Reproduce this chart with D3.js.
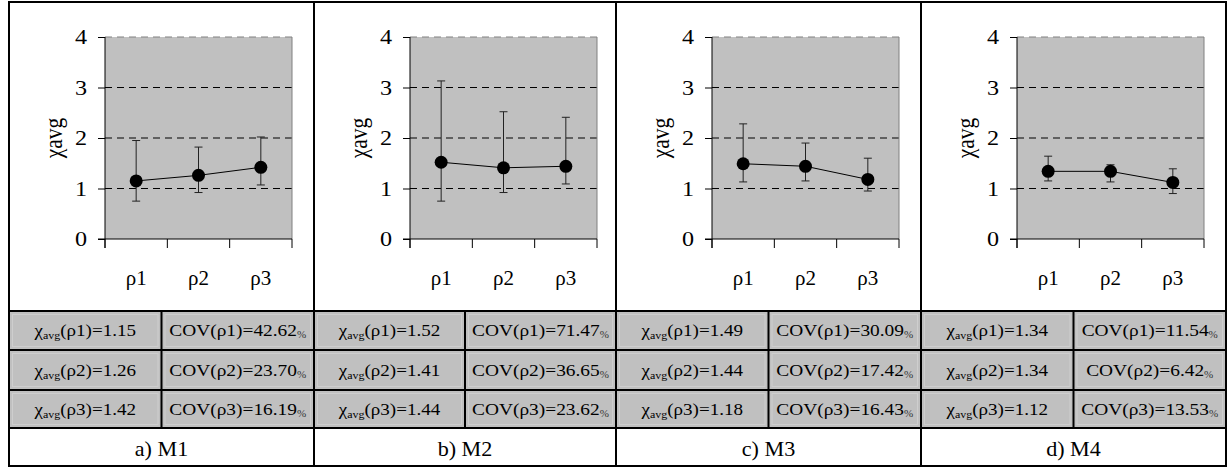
<!DOCTYPE html>
<html><head><meta charset="utf-8">
<script src="https://cdn.jsdelivr.net/npm/d3@7"></script>
<style>body{margin:0;background:#fff}svg{display:block}</style>
</head><body>
<svg id="chart" width="1231" height="467"></svg>
<script>
// ---------- data ----------
const panelLabels = ["a) M1", "b) M2", "c) M3", "d) M4"];
const categories = ["ρ1", "ρ2", "ρ3"];
const yTicks = [0, 1, 2, 3, 4];

const meanM1 = [1.15, 1.26, 1.42];
const meanM2 = [1.52, 1.41, 1.44];
const meanM3 = [1.49, 1.44, 1.18];
const meanM4 = [1.34, 1.34, 1.12];

const highM1 = [1.95, 1.82, 2.02];
const highM2 = [3.13, 2.52, 2.41];
const highM3 = [2.28, 1.90, 1.60];
const highM4 = [1.64, 1.47, 1.39];

const lowM1 = [0.75, 0.92, 1.07];
const lowM2 = [0.75, 0.92, 1.09];
const lowM3 = [1.13, 1.15, 0.95];
const lowM4 = [1.15, 1.13, 0.90];

const covM1 = [42.62, 23.70, 16.19];
const covM2 = [71.47, 36.65, 23.62];
const covM3 = [30.09, 17.42, 16.43];
const covM4 = [11.54, 6.42, 13.53];

const means = [meanM1, meanM2, meanM3, meanM4];
const highs = [highM1, highM2, highM3, highM4];
const lows = [lowM1, lowM2, lowM3, lowM4];
const covs = [covM1, covM2, covM3, covM4];

// ---------- layout ----------
const FONT = "'Liberation Serif','Times New Roman',serif";
const svg = d3.select("#chart");
const edges = [9, 314, 616, 921, 1226];
const frameTop = 2, frameBottom = 466;
const rowLines = [311, 350, 390, 428];
const plotTop = 37, plotBottom = 239, plotOffset = 96, plotW = 187;

svg.append("rect").attr("width", 1231).attr("height", 467).attr("fill", "#fff");

// table cells (gray)
for (let p = 0; p < 4; p++) {
  const mid = (edges[p] + edges[p + 1]) / 2;
  const cols = [[edges[p], mid], [mid, edges[p + 1]]];
  for (let r = 0; r < 3; r++) {
    cols.forEach(([a, b]) => {
      svg.append("rect").attr("x", a).attr("y", rowLines[r])
        .attr("width", b - a).attr("height", rowLines[r + 1] - rowLines[r])
        .attr("fill", "#c0c0c0");
      svg.append("rect").attr("x", a + 3.5).attr("y", rowLines[r] + 3.5)
        .attr("width", b - a - 7).attr("height", rowLines[r + 1] - rowLines[r] - 7)
        .attr("fill", "none").attr("stroke", "#cecece").attr("stroke-width", 1);
    });
  }
}

const leftTexts = [], rightTexts = [];

// ---------- panels ----------
for (let p = 0; p < 4; p++) {
  const left = edges[p] + plotOffset;
  const g = svg.append("g");
  const x = d3.scaleBand().domain(categories).range([left, left + plotW]).padding(0);
  const y = d3.scaleLinear().domain([0, 4]).range([plotBottom, plotTop]);

  g.append("rect").attr("x", left).attr("y", y(4)).attr("width", plotW)
    .attr("height", y(0) - y(4)).attr("fill", "#c0c0c0");

  // grid lines
  g.selectAll(".grid").data(yTicks.filter(d => d > 0)).join("line")
    .attr("x1", left).attr("x2", left + plotW)
    .attr("y1", d => y(d)).attr("y2", d => y(d))
    .attr("stroke", d => d === 4 ? "#808080" : "#000")
    .attr("stroke-width", 1).attr("stroke-dasharray", "7,5");
  // right border
  g.append("line").attr("x1", left + plotW).attr("x2", left + plotW)
    .attr("y1", y(4)).attr("y2", y(0)).attr("stroke", "#808080");

  // y axis
  const ya = g.append("g").attr("transform", `translate(${left},0)`)
    .call(d3.axisLeft(y).tickValues(yTicks).tickSize(7).tickPadding(11).tickFormat(d3.format("d")));
  ya.select(".domain").remove();
  ya.selectAll("line").attr("stroke", "#000");
  ya.selectAll("text").attr("font-family", FONT).attr("font-size", 21).attr("fill", "#000")
    .attr("x", -18 / 1.15).attr("transform", "scale(1.15,1)");
  g.append("line").attr("x1", left).attr("x2", left).attr("y1", y(4)).attr("y2", y(0) + 9)
    .attr("stroke", "#000");

  // x axis
  g.append("line").attr("x1", left - 7).attr("x2", left + plotW).attr("y1", y(0)).attr("y2", y(0))
    .attr("stroke", "#000");
  const bounds = categories.map(c => x(c)).concat([x(categories[2]) + x.bandwidth()]);
  g.selectAll(".xt").data(bounds).join("line")
    .attr("x1", d => d).attr("x2", d => d).attr("y1", y(0)).attr("y2", y(0) + 9)
    .attr("stroke", "#000");
  g.selectAll(".xl").data(categories).join("text")
    .attr("transform", d => `translate(${x(d) + x.bandwidth() / 2},285)`)
    .attr("text-anchor", "middle").attr("font-family", FONT).attr("font-size", 21)
    .text(d => d);

  // y label
  g.append("text").attr("transform", `translate(${edges[p] + 53},138) rotate(-90) scale(1,1.15)`)
    .attr("text-anchor", "middle").attr("font-family", FONT).attr("font-size", 21.5)
    .text("χavg");

  const cx = d => x(d) + x.bandwidth() / 2;
  const pts = categories.map((c, i) => ({ c, m: means[p][i], hi: highs[p][i], lo: lows[p][i] }));

  // error bars
  g.selectAll(".eb").data(pts).join("line")
    .attr("x1", d => cx(d.c)).attr("x2", d => cx(d.c))
    .attr("y1", d => y(d.hi)).attr("y2", d => y(d.lo)).attr("stroke", "#222");
  ["hi", "lo"].forEach(k => {
    g.selectAll(".cap" + k).data(pts).join("line")
      .attr("x1", d => cx(d.c) - 4).attr("x2", d => cx(d.c) + 4)
      .attr("y1", d => y(d[k])).attr("y2", d => y(d[k])).attr("stroke", "#222");
  });
  // line
  g.append("path").datum(pts).attr("fill", "none").attr("stroke", "#000").attr("stroke-width", 1)
    .attr("d", d3.line().x(d => cx(d.c)).y(d => y(d.m)));
  g.selectAll(".pt").data(pts).join("circle")
    .attr("cx", d => cx(d.c)).attr("cy", d => y(d.m)).attr("r", 6.5).attr("fill", "#000");

  // table text
  const mid = (edges[p] + edges[p + 1]) / 2;
  const c1 = (edges[p] + mid) / 2, c2 = (mid + edges[p + 1]) / 2;
  for (let r = 0; r < 3; r++) {
    const by = (rowLines[r] + rowLines[r + 1]) / 2 + 5.5;
    const t1 = g.append("text").datum([c1, by])
      .attr("text-anchor", "middle").attr("font-family", FONT).attr("font-size", 17.5);
    t1.append("tspan").text("χ");
    t1.append("tspan").attr("font-size", 11).attr("dy", 3).text("avg");
    t1.append("tspan").attr("dy", -3).text(`(${categories[r]})=${means[p][r].toFixed(2)}`);
    const t2 = g.append("text").datum([c2, by])
      .attr("text-anchor", "middle").attr("font-family", FONT).attr("font-size", 17.5);
    t2.append("tspan").text(`COV(${categories[r]})=${covs[p][r].toFixed(2)}`);
    t2.append("tspan").attr("font-size", 10).attr("dy", 2).attr("fill", "#333").text("%");
    leftTexts.push(t1); rightTexts.push(t2);
  }

  // panel label
  g.append("text").attr("transform", `translate(${(edges[p] + edges[p + 1]) / 2},456) scale(1.08,1)`)
    .attr("text-anchor", "middle").attr("font-family", FONT).attr("font-size", 20.5)
    .text(panelLabels[p]);
}

// fit table text widths to the reference proportions (first cells as the guide)
const sL = 103 / leftTexts[0].node().getBBox().width;
const sR = 137 / rightTexts[0].node().getBBox().width;
leftTexts.forEach(t => { const [a, b] = t.datum(); t.attr("transform", `translate(${a},${b}) scale(${sL},1)`); });
rightTexts.forEach(t => { const [a, b] = t.datum(); t.attr("transform", `translate(${a},${b}) scale(${sR},1)`); });

// ---------- grid lines of the frame ----------
const frame = svg.append("g").attr("stroke", "#000").attr("stroke-width", 2);
edges.forEach(e => frame.append("line").attr("x1", e).attr("x2", e).attr("y1", frameTop).attr("y2", frameBottom));
[frameTop, ...rowLines, frameBottom].forEach(yy => frame.append("line").attr("x1", edges[0] - 1).attr("x2", edges[4] + 1).attr("y1", yy).attr("y2", yy));
for (let p = 0; p < 4; p++) {
  const mid = (edges[p] + edges[p + 1]) / 2;
  frame.append("line").attr("x1", mid).attr("x2", mid).attr("y1", rowLines[0]).attr("y2", rowLines[3]);
}
</script>
</body></html>
